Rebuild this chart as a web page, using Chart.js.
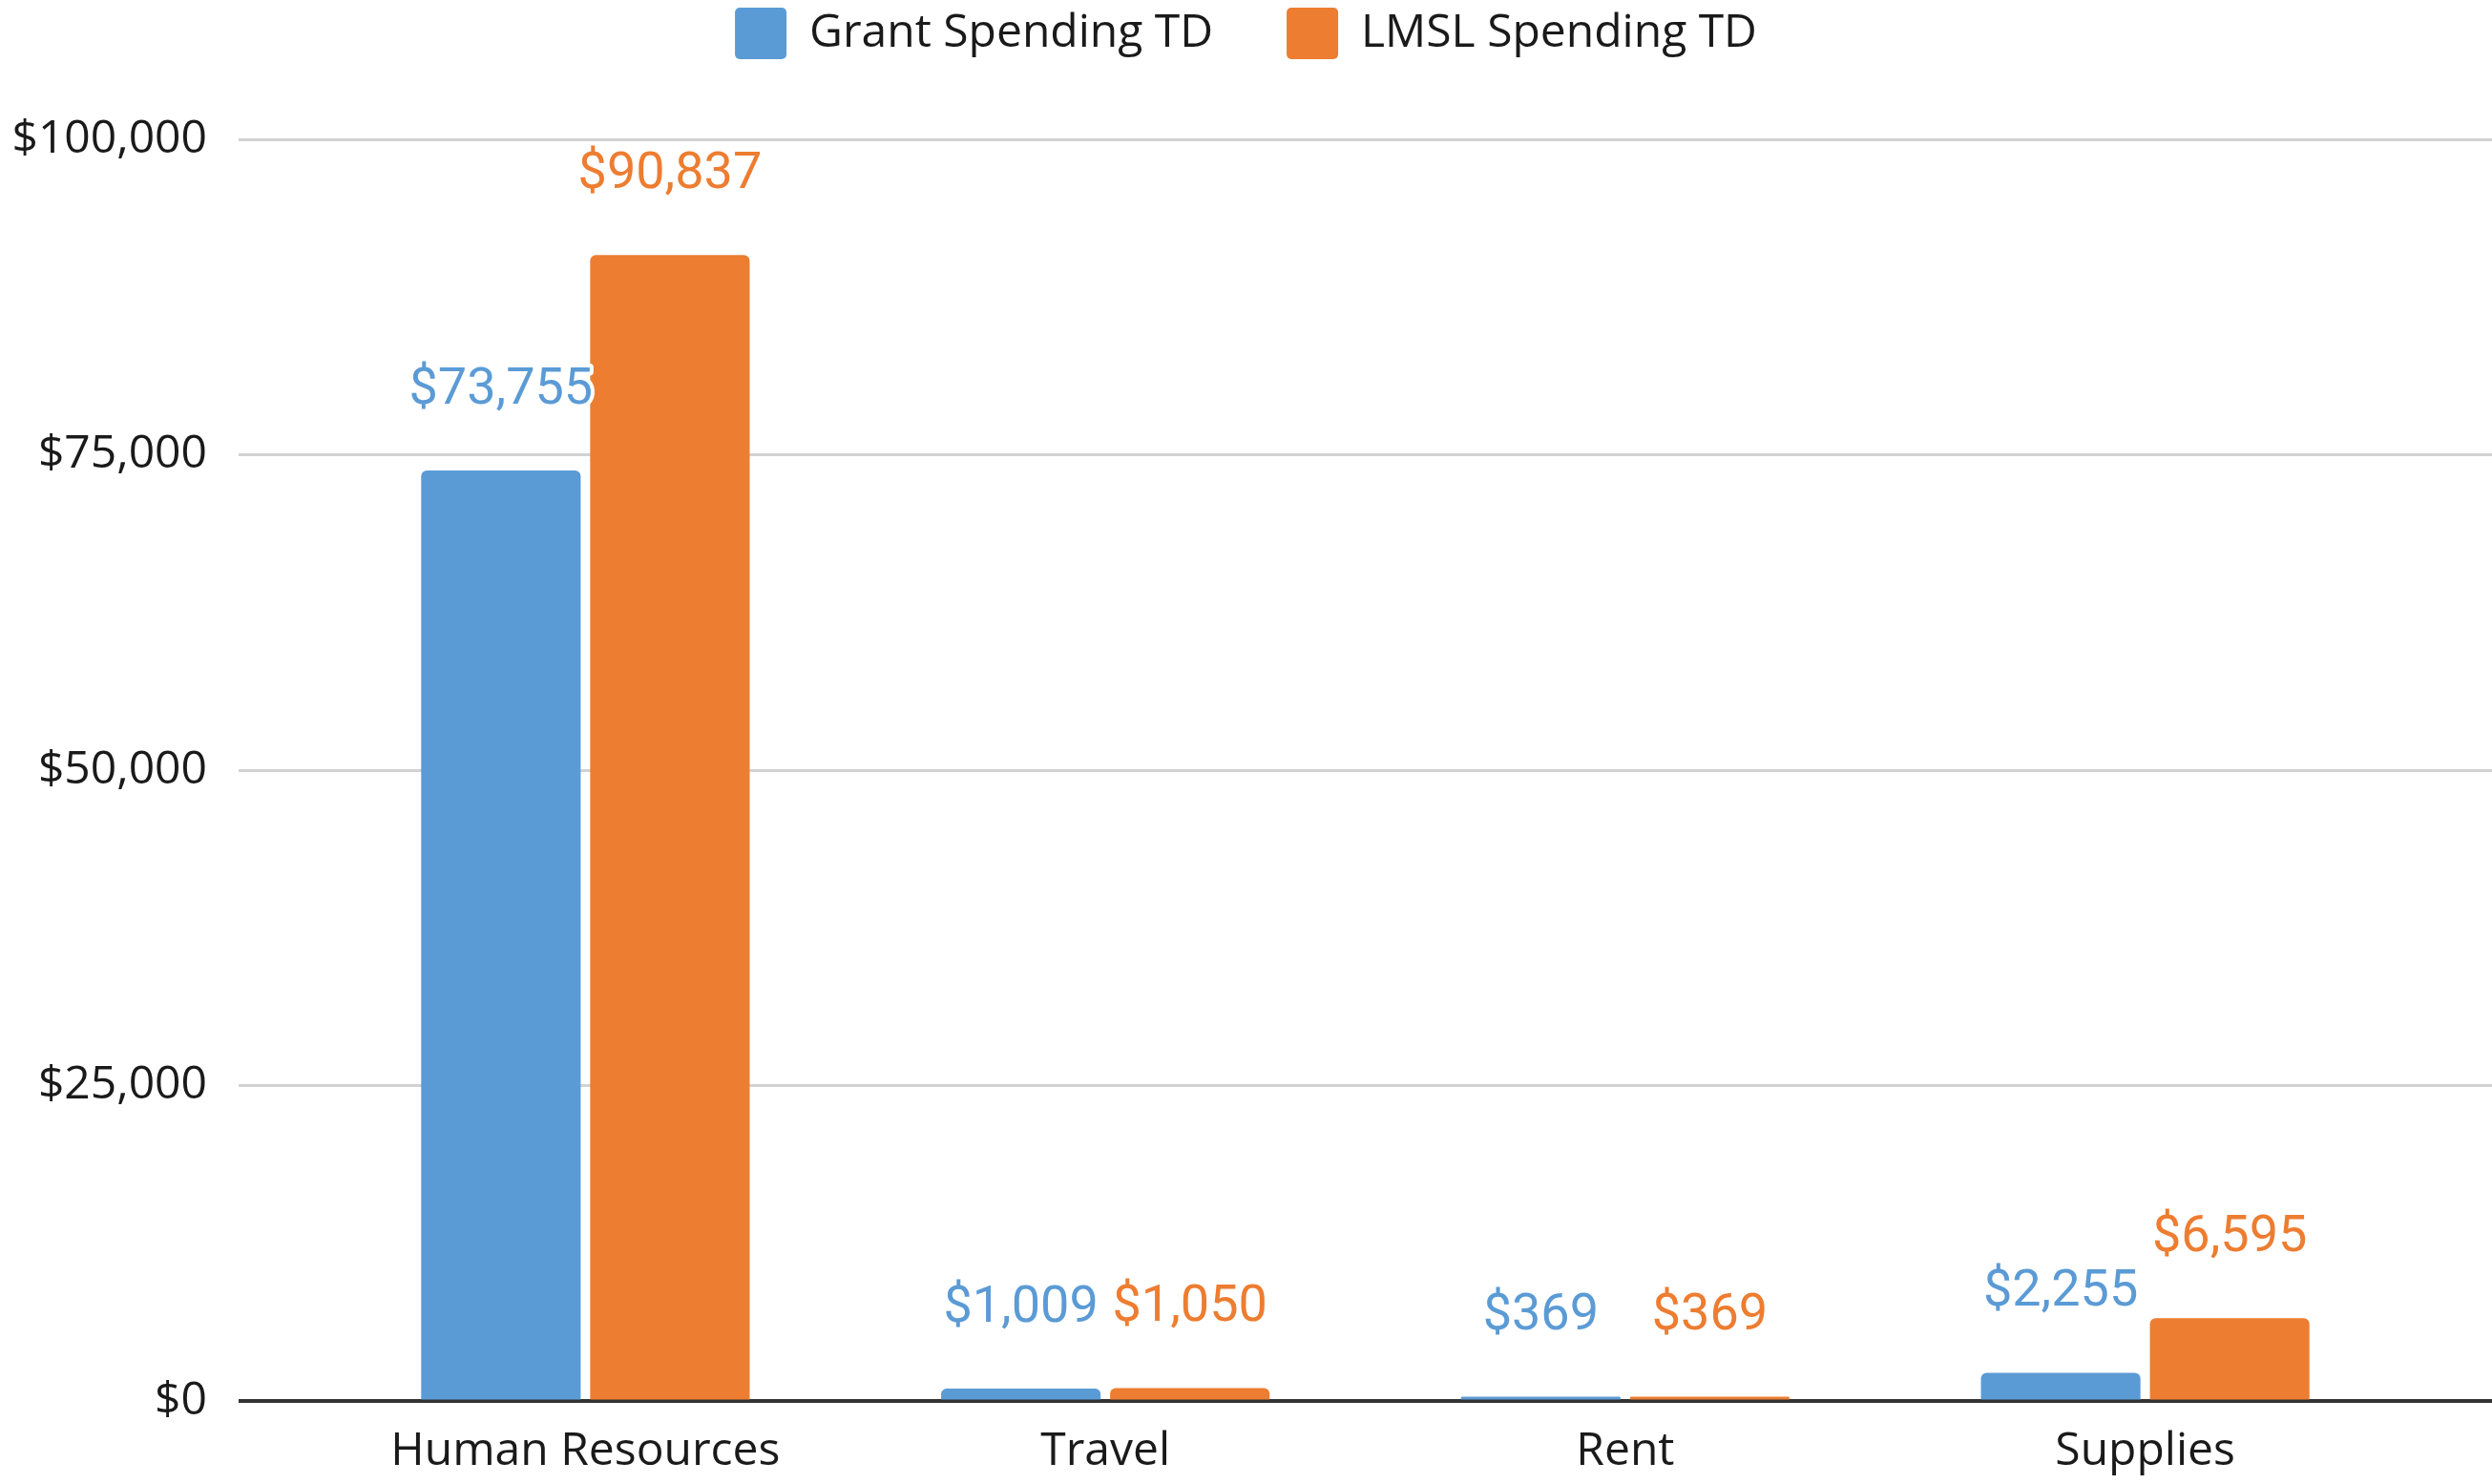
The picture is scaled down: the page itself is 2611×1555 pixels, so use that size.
<!DOCTYPE html>
<html>
<head>
<meta charset="utf-8">
<script src="https://cdn.jsdelivr.net/npm/chart.js@4/dist/chart.umd.min.js"></script>
<style>
    html, body { margin: 0; padding: 0; background: #fff; }
    #chart { display: block; }
</style>
</head>
<body>
<canvas id="chart" width="2611" height="1555"></canvas>
<script>
const categories = ['Human Resources', 'Travel', 'Rent', 'Supplies'];
const grantSpending = [73755, 1009, 369, 2255];
const lmslSpending = [90837, 1050, 369, 6595];
const seriesNames = ['Grant Spending TD', 'LMSL Spending TD'];
const seriesColors = ['#5b9bd5', '#ed7d31'];
const yMax = 100000;
const yStep = 25000;

const GRID = '#d2d2d2';
const AXIS = '#333333';

function money(v) {
    return '$' + Number(v).toLocaleString('en-US');
}

// grid line colour: the zero line is the dark axis line
function gridColor(ctx) {
    return ctx.tick && ctx.tick.value === 0 ? AXIS : GRID;
}
function gridWidth(ctx) {
    return ctx.tick && ctx.tick.value === 0 ? 4 : 3;
}

// value labels above each bar, white halo like the original
const valueLabels = {
    id: 'valueLabels',
    afterDatasetsDraw(chart) {
        const ctx = chart.ctx;
        ctx.save();
        ctx.font = '54px Roboto';
        ctx.textAlign = 'center';
        ctx.textBaseline = 'middle';
        ctx.lineJoin = 'round';
        chart.data.datasets.forEach((ds, i) => {
            const meta = chart.getDatasetMeta(i);
            meta.data.forEach((bar, j) => {
                const text = money(ds.data[j]);
                const y = bar.y - 84;
                ctx.strokeStyle = '#ffffff';
                ctx.lineWidth = 8;
                ctx.strokeText(text, bar.x, y);
                ctx.fillStyle = ds.backgroundColor;
                ctx.fillText(text, bar.x, y);
            });
        });
        ctx.restore();
    }
};

let ctx = document.getElementById('chart').getContext('2d');
let config = {
    type: 'bar',
    data: {
        labels: categories,
        datasets: [
            {
                label: seriesNames[0],
                data: grantSpending,
                backgroundColor: seriesColors[0],
                borderWidth: 0,
                borderRadius: { topLeft: 6, topRight: 6 },
                borderSkipped: 'bottom'
            },
            {
                label: seriesNames[1],
                data: lmslSpending,
                backgroundColor: seriesColors[1],
                borderWidth: 0,
                borderRadius: { topLeft: 6, topRight: 6 },
                borderSkipped: 'bottom'
            }
        ]
    },
    options: {
        responsive: false,
        animation: false,
        devicePixelRatio: 1,
        barPercentage: 0.944,
        categoryPercentage: 0.65,
        layout: {
            padding: { top: -69, left: 0, right: 0, bottom: -19 }
        },
        scales: {
            x: {
                grid: { display: false, drawTicks: false },
                border: { display: false },
                ticks: {
                    padding: 24,
                    color: '#1a1a1a',
                    font: { family: 'Open Sans', size: 48 }
                }
            },
            y: {
                position: 'left',
                min: 0,
                max: yMax,
                border: { display: false },
                grid: {
                    color: gridColor,
                    lineWidth: gridWidth,
                    drawTicks: true,
                    tickLength: 91
                },
                ticks: {
                    stepSize: yStep,
                    padding: 33,
                    color: '#1a1a1a',
                    font: { family: 'Open Sans', size: 48 },
                    callback: v => money(v)
                },
                afterFit(scale) {
                    scale.width = 341;
                }
            },
            // only used to run the grid lines on to the right edge
            y2: {
                display: true,
                position: 'right',
                min: 0,
                max: yMax,
                border: { display: false },
                grid: {
                    color: gridColor,
                    lineWidth: gridWidth,
                    drawOnChartArea: false,
                    drawTicks: true,
                    tickLength: 91
                },
                ticks: { stepSize: yStep, display: false }
            }
        },
        plugins: {
            legend: {
                display: true,
                position: 'top',
                labels: {
                    boxWidth: 54,
                    boxHeight: 54,
                    padding: 77,
                    useBorderRadius: true,
                    borderRadius: 5,
                    color: '#1a1a1a',
                    font: { family: 'Open Sans', size: 48 }
                }
            },
            // empty title used as a spacer between legend and plot
            title: {
                display: true,
                text: '',
                weight: 500,
                padding: { top: 64, bottom: 0 },
                font: { size: 10, lineHeight: 1 }
            },
            tooltip: { enabled: false }
        }
    },
    plugins: [valueLabels]
};

let chart = new Chart(ctx, config);
</script>
</body>
</html>
